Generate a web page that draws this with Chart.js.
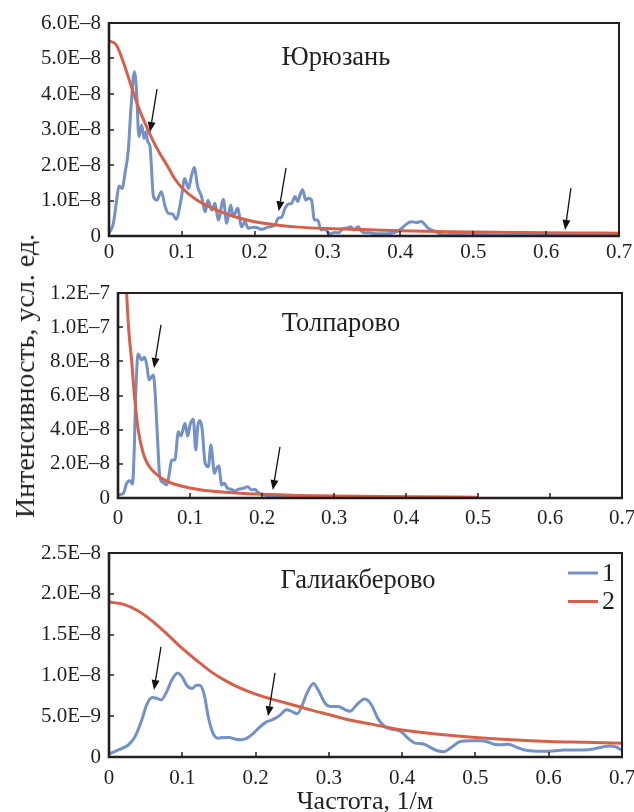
<!DOCTYPE html>
<html>
<head>
<meta charset="utf-8">
<script src="https://cdn.jsdelivr.net/npm/chart.js@4.4.1/dist/chart.umd.min.js"></script>
<style>
  body { margin: 0; background: #fff; }
  #wrap { position: relative; width: 634px; height: 812px; overflow: hidden;
          font-family: "Liberation Serif", "Times New Roman", serif; color: #231f20; }
  #wrap canvas { position: absolute; left: 0; }
  #ylab { position: absolute; left: 25px; top: 376px; line-height: 28px; font-size: 28px;
          white-space: nowrap; transform: translate(-50%, -50%) rotate(-90deg); }
  #xlab { position: absolute; left: 365px; top: 788px; line-height: 26px; font-size: 26px;
          white-space: nowrap; transform: translateX(-50%); }
</style>
</head>
<body>
<div id="wrap">
  <canvas id="c1" width="634" height="275" style="top:0px"></canvas>
  <canvas id="c2" width="634" height="275" style="top:265px"></canvas>
  <canvas id="c3" width="634" height="287" style="top:525px"></canvas>
  <div id="ylab">Интенсивность, усл. ед.</div>
  <div id="xlab">Частота, 1/м</div>
</div>
<script>
// values in units of 1E-8
const UNIT = 1e-8;
const seriesLabels = ['1', '2'];
const panelTitles = ['Юрюзань', 'Толпарово', 'Галиакберово'];

// Юрюзань
const yurFreq1 = [0, 0.006, 0.0105, 0.0137, 0.018, 0.022, 0.0265, 0.030, 0.0348, 0.038, 0.041, 0.0449, 0.048, 0.0508, 0.053, 0.0563,
  0.061, 0.0655, 0.072, 0.077, 0.0814, 0.0874, 0.092, 0.0988, 0.104, 0.109, 0.1135, 0.117, 0.1217, 0.127, 0.132, 0.136, 0.141,
  0.1455, 0.150, 0.157, 0.1615, 0.167, 0.1706, 0.1766, 0.182, 0.1867, 0.191, 0.200, 0.2095, 0.2186, 0.228, 0.232, 0.237, 0.2416,
  0.246, 0.2507, 0.2553, 0.259, 0.262, 0.2658, 0.270, 0.2735, 0.278, 0.282, 0.2865, 0.291, 0.2965, 0.303, 0.310, 0.315, 0.3215,
  0.326, 0.332, 0.336, 0.342, 0.347, 0.351, 0.358, 0.367, 0.379, 0.388, 0.395, 0.402, 0.4085, 0.415, 0.422, 0.429, 0.434, 0.438,
  0.445, 0.452, 0.461, 0.477, 0.4955, 0.509, 0.523, 0.55, 0.6, 0.65, 0.7];
const yurInt1 = [0.08, 0.36, 1.01, 1.41, 1.34, 1.77, 2.42, 3.55, 4.63, 4.02, 2.80, 3.13, 2.75, 2.94, 2.66, 2.52,
  1.11, 1.01, 1.25, 0.83, 0.64, 0.62, 0.47, 1.01, 1.62, 1.34, 1.72, 1.93, 1.39, 1.11, 0.68, 1.01, 0.73,
  0.92, 0.45, 1.03, 0.36, 0.87, 0.54, 0.78, 0.26, 0.40, 0.22, 0.25, 0.19, 0.25, 0.31, 0.50, 0.53, 0.78,
  0.90, 0.92, 1.11, 0.97, 1.15, 1.30, 1.01, 1.06, 1.01, 0.45, 0.45, 0.17, 0.19, 0.06, 0.10, 0.09, 0.21,
  0.22, 0.26, 0.17, 0.26, 0.12, 0.09, 0.09, 0.06, 0.06, 0.08, 0.12, 0.22, 0.34, 0.40, 0.38, 0.41, 0.31, 0.22,
  0.15, 0.08, 0.03, 0.06, 0.08, 0.06, 0.03, 0.02, 0.02, 0.02, 0.02];
const yurFreq2 = [0, 0.01, 0.02, 0.03, 0.04, 0.05, 0.06, 0.07, 0.08, 0.09, 0.10, 0.12, 0.14, 0.16, 0.18, 0.20, 0.23, 0.26, 0.30,
  0.35, 0.40, 0.45, 0.50, 0.55, 0.60, 0.65, 0.70];
const yurInt2 = [5.50, 5.38, 4.88, 4.25, 3.65, 3.15, 2.70, 2.32, 1.98, 1.62, 1.36, 1.02, 0.80, 0.63, 0.50, 0.40, 0.31, 0.25, 0.21,
  0.18, 0.15, 0.13, 0.11, 0.10, 0.09, 0.085, 0.08];
const yurArrows = [[0.0563, 2.93, 0.0659, 4.14], [0.233, 0.70, 0.243, 1.92], [0.626, 0.17, 0.634, 1.35]];

// Толпарово
const tolFreq1 = [0, 0.0074, 0.012, 0.0167, 0.020, 0.0227, 0.0245, 0.028, 0.033, 0.0366, 0.040, 0.043, 0.0468, 0.049, 0.051, 0.055,
  0.058, 0.063, 0.0676, 0.0713, 0.0745, 0.079, 0.0838, 0.0875, 0.093, 0.0968, 0.100, 0.1046, 0.108, 0.1107, 0.114, 0.117, 0.121,
  0.1255, 0.129, 0.134, 0.137, 0.140, 0.144, 0.1477, 0.152, 0.157, 0.1625, 0.167, 0.174, 0.180, 0.1857, 0.190, 0.195, 0.200, 0.21,
  0.25, 0.30, 0.40, 0.50];
const tolInt1 = [0.18, 0.27, 0.86, 1.01, 0.82, 3.0, 5.93, 8.43, 8.08, 8.24, 7.79, 6.91, 7.10, 7.20, 6.52, 3.40,
  1.25, 0.90, 0.76, 1.45, 2.22, 2.22, 3.88, 3.63, 4.37, 3.63, 4.27, 4.61, 2.81, 4.17, 4.53, 3.98, 2.03,
  1.83, 3.10, 1.45, 1.74, 1.87, 0.76, 0.86, 0.57, 0.51, 0.41, 0.51, 0.57, 0.66, 0.47, 0.51, 0.31, 0.22, 0.12,
  0.08, 0.06, 0.04, 0.03];
const tolFreq2 = [0.008, 0.012, 0.015, 0.019, 0.023, 0.028, 0.035, 0.042, 0.051, 0.065, 0.088, 0.116, 0.15, 0.18, 0.2, 0.25, 0.3,
  0.4, 0.5];
const tolInt2 = [16, 12.0, 9.8, 8.0, 5.9, 4.0, 2.62, 1.93, 1.48, 1.05, 0.70, 0.47, 0.33, 0.25, 0.22, 0.15, 0.11, 0.07, 0.05];
const tolArrows = [[0.050, 7.61, 0.0597, 10.13], [0.215, 0.47, 0.225, 2.99]];

// Галиакберово
const galFreq1 = [0, 0.0127, 0.0263, 0.0355, 0.0446, 0.0514, 0.059, 0.065, 0.071, 0.0787, 0.0855, 0.0937, 0.100, 0.106, 0.113,
  0.1196, 0.124, 0.130, 0.1355, 0.142, 0.149, 0.156, 0.164, 0.172, 0.180, 0.188, 0.197, 0.206, 0.215, 0.224, 0.233, 0.242, 0.249,
  0.257, 0.263, 0.270, 0.279, 0.2855, 0.2947, 0.3015, 0.313, 0.322, 0.329, 0.338, 0.349, 0.358, 0.367, 0.3765, 0.386, 0.397,
  0.408, 0.4175, 0.429, 0.438, 0.447, 0.457, 0.4675, 0.479, 0.4925, 0.506, 0.515, 0.524, 0.533, 0.545, 0.556, 0.5675, 0.579,
  0.5925, 0.606, 0.62, 0.633, 0.647, 0.661, 0.672, 0.683, 0.6925, 0.70];
const galInt1 = [0.037, 0.086, 0.147, 0.25, 0.45, 0.64, 0.73, 0.72, 0.70, 0.80, 0.94, 1.03, 0.98, 0.88, 0.84,
  0.88, 0.88, 0.76, 0.49, 0.29, 0.23, 0.24, 0.24, 0.22, 0.21, 0.23, 0.29, 0.37, 0.43, 0.46, 0.51, 0.58, 0.56,
  0.53, 0.62, 0.78, 0.90, 0.82, 0.66, 0.62, 0.62, 0.58, 0.56, 0.64, 0.71, 0.64, 0.47, 0.37, 0.34, 0.32,
  0.23, 0.17, 0.16, 0.12, 0.08, 0.065, 0.12, 0.19, 0.20, 0.20, 0.19, 0.16, 0.15, 0.155, 0.12, 0.086, 0.074,
  0.07, 0.074, 0.086, 0.086, 0.086, 0.098, 0.12, 0.135, 0.12, 0.08];
const galFreq2 = [0, 0.02, 0.04, 0.06, 0.08, 0.10, 0.12, 0.14, 0.16, 0.18, 0.20, 0.22, 0.24, 0.26, 0.28, 0.30, 0.33, 0.36, 0.40,
  0.45, 0.50, 0.55, 0.60, 0.65, 0.70];
const galInt2 = [1.90, 1.87, 1.79, 1.66, 1.50, 1.33, 1.18, 1.04, 0.93, 0.84, 0.77, 0.715, 0.665, 0.615, 0.565, 0.52, 0.45, 0.40, 0.33,
  0.28, 0.24, 0.21, 0.19, 0.18, 0.17];
const galArrows = [[0.0614, 0.82, 0.0709, 1.35], [0.217, 0.50, 0.2265, 1.03]];

const INK = '#231f20';
const BLUE = '#7391c6';
const RED = '#d6604a';
const FONT = '"Liberation Serif", "Times New Roman", serif';

function pts(xs, ys) {
  return xs.map((x, i) => ({ x: x, y: ys[i] }));
}

function fmtE(v) {
  if (v === 0) return '0';
  return (v * UNIT).toExponential(1).replace('e-', 'E\u2013');
}

const decor = {
  id: 'decor',
  afterDatasetsDraw(chart, args, o) {
    const ctx = chart.ctx;
    const a = chart.chartArea;
    const xs = chart.scales.x, ys = chart.scales.y;
    ctx.save();
    ctx.strokeStyle = INK;
    ctx.lineWidth = 1.5;
    ctx.beginPath();
    xs.ticks.forEach(t => {
      const p = Math.round(xs.getPixelForValue(t.value));
      ctx.moveTo(p, a.bottom); ctx.lineTo(p, a.bottom - 5);
    });
    ys.ticks.forEach(t => {
      const p = Math.round(ys.getPixelForValue(t.value));
      ctx.moveTo(a.left, p); ctx.lineTo(a.left + 5, p);
    });
    ctx.stroke();
    // frame
    ctx.lineWidth = 2;
    ctx.beginPath();
    ctx.moveTo(a.left, a.top); ctx.lineTo(a.right, a.top); ctx.lineTo(a.right, a.bottom);
    ctx.stroke();
    ctx.lineWidth = 2.6;
    ctx.beginPath();
    ctx.moveTo(a.left, a.top - 1); ctx.lineTo(a.left, a.bottom); ctx.lineTo(a.right + 1, a.bottom);
    ctx.stroke();
    // title
    ctx.fillStyle = INK;
    ctx.font = '26.5px ' + FONT;
    ctx.textAlign = 'center';
    ctx.textBaseline = 'alphabetic';
    ctx.fillText(o.title, o.titleX, a.top + o.titleDy);
    // arrows
    ctx.strokeStyle = '#111';
    ctx.fillStyle = '#111';
    ctx.lineWidth = 1.3;
    o.arrows.forEach(([tx, ty, sx, sy]) => {
      const x1 = xs.getPixelForValue(sx), y1 = ys.getPixelForValue(sy);
      const x2 = xs.getPixelForValue(tx), y2 = ys.getPixelForValue(ty);
      const ang = Math.atan2(y2 - y1, x2 - x1);
      const hl = 10, hw = 4;
      const bx = x2 - hl * Math.cos(ang), by = y2 - hl * Math.sin(ang);
      ctx.beginPath();
      ctx.moveTo(x1, y1); ctx.lineTo(bx, by);
      ctx.stroke();
      ctx.beginPath();
      ctx.moveTo(x2, y2);
      ctx.lineTo(bx + hw * Math.sin(ang), by - hw * Math.cos(ang));
      ctx.lineTo(bx - hw * Math.sin(ang), by + hw * Math.cos(ang));
      ctx.closePath();
      ctx.fill();
    });
    // legend
    if (o.legend) {
      ctx.font = '26px ' + FONT;
      ctx.textAlign = 'left';
      ctx.textBaseline = 'middle';
      chart.data.datasets.forEach((d, i) => {
        const y = a.top + 20 + i * 28.5;
        ctx.strokeStyle = d.borderColor;
        ctx.lineWidth = 3;
        ctx.beginPath();
        ctx.moveTo(a.right - 54, y); ctx.lineTo(a.right - 24, y);
        ctx.stroke();
        ctx.fillStyle = INK;
        ctx.fillText(d.label, a.right - 20, y + 1);
      });
    }
    ctx.restore();
  }
};

function makeChart(id, c) {
  return new Chart(document.getElementById(id), {
    type: 'line',
    data: {
      datasets: [
        { label: seriesLabels[0], data: pts(c.fx1, c.iy1), borderColor: BLUE, borderWidth: 3, pointRadius: 0,
          cubicInterpolationMode: 'monotone', order: 1 },
        { label: seriesLabels[1], data: pts(c.fx2, c.iy2), borderColor: RED, borderWidth: 3, pointRadius: 0,
          cubicInterpolationMode: 'monotone', order: 0 }
      ]
    },
    options: {
      responsive: false,
      animation: false,
      events: [],
      layout: { padding: { left: 0, right: c.padRight, top: c.padTop, bottom: 0 } },
      plugins: {
        legend: { display: false },
        tooltip: { enabled: false },
        decor: { title: c.title, titleX: c.titleX, titleDy: c.titleDy, arrows: c.arrows, legend: c.legend }
      },
      scales: {
        x: {
          type: 'linear', min: 0, max: 0.7,
          grid: { display: false, drawTicks: false }, border: { display: false },
          ticks: { stepSize: 0.1, color: INK, font: { family: FONT, size: 21 }, padding: c.xPad,
                   maxRotation: 0, autoSkip: false,
                   callback: v => v === 0 ? '0' : v.toFixed(1) },
          afterFit(s) { s.height = c.xHeight; s.paddingLeft = 0; s.paddingRight = 0; }
        },
        y: {
          min: 0, max: c.yMax,
          grid: { display: false, drawTicks: false }, border: { display: false },
          ticks: { stepSize: c.yStep, color: INK, font: { family: FONT, size: 21 }, padding: 8, callback: fmtE },
          afterFit(s) { s.width = c.yWidth; s.paddingTop = 0; s.paddingBottom = 0; }
        }
      }
    },
    plugins: [decor]
  });
}

makeChart('c1', { fx1: yurFreq1, iy1: yurInt1, fx2: yurFreq2, iy2: yurInt2, arrows: yurArrows,
  title: panelTitles[0], titleX: 336, titleDy: 42, yMax: 6, yStep: 1,
  yWidth: 109, padRight: 15, padTop: 23, xHeight: 39, xPad: 4, legend: false });
makeChart('c2', { fx1: tolFreq1, iy1: tolInt1, fx2: tolFreq2, iy2: tolInt2, arrows: tolArrows,
  title: panelTitles[1], titleX: 341, titleDy: 38, yMax: 12, yStep: 2,
  yWidth: 118, padRight: 12, padTop: 28, xHeight: 42, xPad: 8, legend: false });
makeChart('c3', { fx1: galFreq1, iy1: galInt1, fx2: galFreq2, iy2: galInt2, arrows: galArrows,
  title: panelTitles[2], titleX: 358, titleDy: 35, yMax: 2.5, yStep: 0.5,
  yWidth: 109, padRight: 12, padTop: 28, xHeight: 55, xPad: 9, legend: true });
</script>
</body>
</html>
